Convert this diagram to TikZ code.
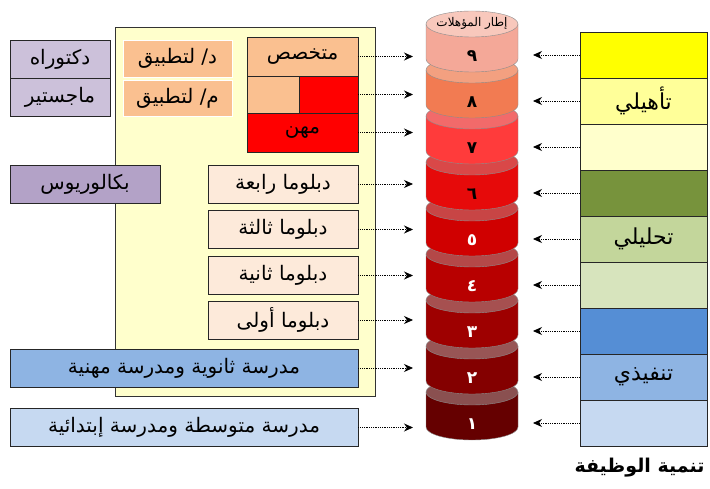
\documentclass[tikz,border=0pt]{standalone}
\usepackage{fontspec}
\newfontfamily\arabicfont[Script=Arabic]{DejaVu Sans}
\TeXXeTstate=1
\usetikzlibrary{arrows.meta,positioning}
\newcommand{\artxt}[1]{\beginR #1\endR}

\definecolor{frameyellow}{HTML}{FFFFCC}
\definecolor{purpleA}{HTML}{CCC1DA}
\definecolor{purpleB}{HTML}{B3A2C7}
\definecolor{orangeA}{HTML}{FAC090}
\definecolor{peach}{HTML}{FDEADA}
\definecolor{blueA}{HTML}{8EB4E3}
\definecolor{blueB}{HTML}{C6D9F1}
\definecolor{jobA}{HTML}{FFFF00}
\definecolor{jobB}{HTML}{FFFF99}
\definecolor{jobC}{HTML}{FFFFCC}
\definecolor{jobD}{HTML}{77933C}
\definecolor{jobE}{HTML}{C3D69B}
\definecolor{jobF}{HTML}{D7E4BD}
\definecolor{jobG}{HTML}{558ED5}
\definecolor{jobH}{HTML}{8EB4E3}
\definecolor{jobI}{HTML}{C6D9F1}
\definecolor{discA}{HTML}{650000}\definecolor{capA}{HTML}{8A5050}
\definecolor{discB}{HTML}{840000}\definecolor{capB}{HTML}{985555}
\definecolor{discC}{HTML}{9E0000}\definecolor{capC}{HTML}{A65050}
\definecolor{discD}{HTML}{B80000}\definecolor{capD}{HTML}{B44848}
\definecolor{discE}{HTML}{D00000}\definecolor{capE}{HTML}{C84545}
\definecolor{discF}{HTML}{E60A0A}\definecolor{capF}{HTML}{D94848}
\definecolor{discG}{HTML}{FF3B3B}\definecolor{capG}{HTML}{F26A6A}
\definecolor{discH}{HTML}{F27B52}\definecolor{capH}{HTML}{F3A080}
\definecolor{discI}{HTML}{F4A898}\definecolor{capI}{HTML}{F8C8BC}

\tikzset
{
    lvlbox/.style   = {rectangle, draw=black!85, line width=0.9pt, inner sep=0pt, minimum height=38pt, font=\arabicfont\fontsize{20}{22}\selectfont},
    degree/.style   = {lvlbox, fill=purpleA, minimum width=100pt},
    applied/.style  = {lvlbox, draw=white, fill=orangeA, minimum width=109pt, minimum height=37pt},
    diploma/.style  = {lvlbox, fill=peach, minimum width=150pt},
    school/.style   = {lvlbox, minimum width=348pt},
    jobrow/.style   = {rectangle, draw=black!85, line width=0.9pt, inner sep=0pt, minimum width=127pt, minimum height=46pt, font=\arabicfont\fontsize{22}{24}\selectfont},
    digit/.style    = {font=\arabicfont\bfseries\fontsize{17}{19}\selectfont},
    dotarrow/.style = {densely dotted, line width=0.8pt, -{Stealth[length=9pt,width=8pt]}}
}

\begin{document}
\begin{tikzpicture}[x=1pt, y=-1pt]
\useasboundingbox (0,0) rectangle (710,489);

% left side: qualifications
\node (frame)	[rectangle, draw=black!80, line width=1pt, fill=frameyellow, minimum width=260pt, minimum height=368pt] at (245,212) {};
\node (dkt)	[degree]				at (60,59)		{\artxt{دكتوراه}};
\node (mjs)	[degree]				at (60,97)		{\artxt{ماجستير}};
\node (bkl)	[degree, fill=purpleB, minimum width=150pt]	at (85,184)	{\artxt{بكالوريوس}};
\node (dapp)	[applied]				at (177.5,58.5)	{\artxt{د/ لتطبيق}};
\node (mapp)	[applied, minimum height=36pt]	at (177.5,98)	{\artxt{م/ لتطبيق}};
\node (spc)	[lvlbox, fill=orangeA, minimum width=111pt, minimum height=39pt]	at (302.5,56.5)	{\artxt{متخصص}};
\node (spl)	[lvlbox, fill=orangeA, minimum width=52pt, minimum height=37pt]	at (273,94.5)	{};
\node (spr)	[lvlbox, fill=red, minimum width=59pt, minimum height=37pt]		at (328.5,94.5)	{};
\node (prof)	[lvlbox, fill=red, minimum width=111pt, minimum height=39pt]	at (302.5,132.5)	{\artxt{مهن}};
\node (dip4)	[diploma]				at (283,184)		{\artxt{دبلوما رابعة}};
\node (dip3)	[diploma]				at (283,229.5)	{\artxt{دبلوما ثالثة}};
\node (dip2)	[diploma]				at (283,275.5)	{\artxt{دبلوما ثانية}};
\node (dip1)	[diploma]				at (283,320)		{\artxt{دبلوما أولى}};
\node (sec)	[school, fill=blueA]		at (184,368)		{\artxt{مدرسة ثانوية ومدرسة مهنية}};
\node (prim)	[school, fill=blueB]		at (184,427.5)	{\artxt{مدرسة متوسطة ومدرسة إبتدائية}};

% cylinder of levels
\foreach \k/\body/\cap/\num/\numcol in {1/discA/capA/١/white, 2/discB/capB/٢/white, 3/discC/capC/٣/white, 4/discD/capD/٤/white, 5/discE/capE/٥/white, 6/discF/capF/٦/black, 7/discG/capG/٧/black, 8/discH/capH/٨/black, 9/discI/capI/٩/black}
{
	\pgfmathsetmacro\yb{427-(\k-1)*46}
	\pgfmathsetmacro\yt{\yb-35}
	\filldraw[fill=\body, draw=black!45, line width=0.4pt] (426,\yt) -- (426,\yb) arc[start angle=180, end angle=0, x radius=46, y radius=13] -- (518,\yt) -- cycle;
	\filldraw[fill=\cap, draw=black!45, line width=0.4pt] (472,\yt) ellipse [x radius=46, y radius=13];
	\node (disc\k) [digit, text=\numcol] at (472,\yt+32) {\num};
}
\node (qf)	[font=\arabicfont\fontsize{12}{14}\selectfont]	at (472,23)	{\artxt{إطار المؤهلات}};

% right side: job development
\foreach \i/\col/\txt in {1/jobA/{}, 2/jobB/{تأهيلي}, 3/jobC/{}, 4/jobD/{}, 5/jobE/{تحليلي}, 6/jobF/{}, 7/jobG/{}, 8/jobH/{تنفيذي}, 9/jobI/{}}
	\node (job\i) [jobrow, fill=\col] at (643.5,9+46*\i) {\artxt{\txt}};
\node (jobl)	[font=\arabicfont\bfseries\fontsize{19}{21}\selectfont, anchor=east]	at (708,468)	{\artxt{تنمية الوظيفة}};

\coordinate (inL) at (413,0);
\coordinate (inR) at (533,0);

\path[dotarrow]
(spc.east)	edge	(spc.east -| inL)
(spr.east)	edge	(spr.east -| inL)
(prof.east)	edge	(prof.east -| inL)
(dip4.east)	edge	(dip4.east -| inL)
(dip3.east)	edge	(dip3.east -| inL)
(dip2.east)	edge	(dip2.east -| inL)
(dip1.east)	edge	(dip1.east -| inL)
(sec.east)	edge	(sec.east -| inL)
(prim.east)	edge	(prim.east -| inL);

\foreach \i in {1,...,9}
	\draw[dotarrow] (job\i.west) -- (job\i.west -| inR);

\end{tikzpicture}
\end{document}
